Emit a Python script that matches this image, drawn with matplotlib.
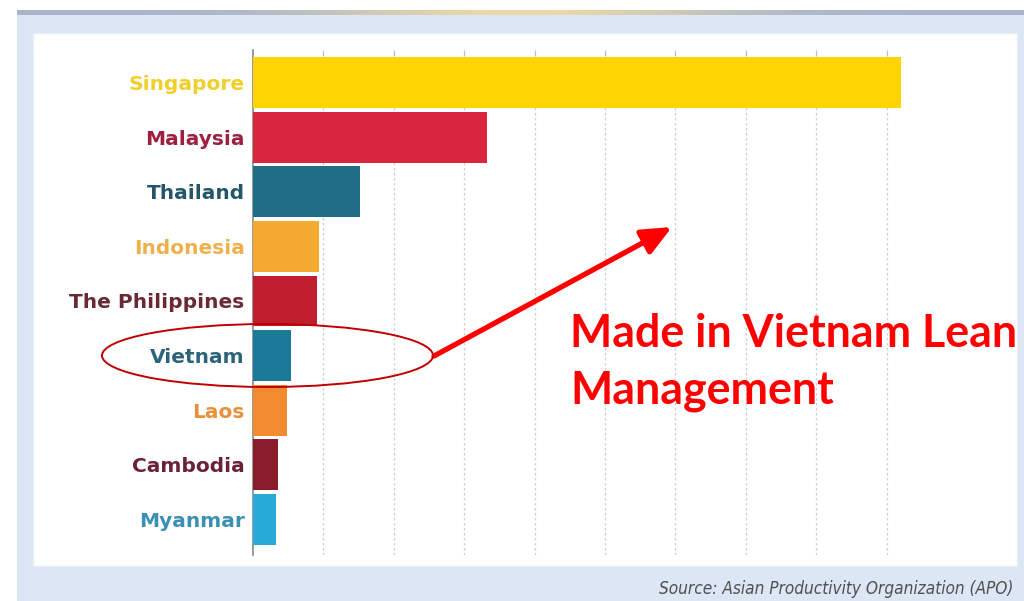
import numpy as np
import matplotlib
matplotlib.use('Agg')
import matplotlib.pyplot as plt
from matplotlib.patches import Rectangle, Ellipse

# data (gridline step = 10)
countries = ['Singapore', 'Malaysia', 'Thailand', 'Indonesia', 'The Philippines',
             'Vietnam', 'Laos', 'Cambodia', 'Myanmar']
values = [92.0, 33.2, 15.2, 9.4, 9.1, 5.4, 4.8, 3.6, 3.3]
bar_colors = ['#FFD400', '#D7263D', '#1F6E86', '#F4A92F', '#BE1E2D',
              '#1B7A98', '#F28B30', '#8A1C2C', '#27AAD8']
label_colors = ['#F0CF2A', '#9E2040', '#24566A', '#EFB04C', '#6A2A35',
                '#2B6478', '#E8903C', '#6B2135', '#3A8FB5']
note = ['Made in Vietnam Lean', 'Management']
source = 'Source: Asian Productivity Organization (APO)'

W, H = 1024, 601
def fx(px):
    return px / W
def fy(py):
    return 1 - py / H

fig = plt.figure(figsize=(W / 100, H / 100), dpi=100)
fig.patch.set_facecolor('white')

# frame: light blue border, top stripe, white panel
fig.add_artist(Rectangle((fx(17), 0), 1 - fx(17), fy(10), transform=fig.transFigure,
                         facecolor='#DCE6F5', edgecolor='none', zorder=-10))
stripe = fig.add_axes([fx(17), fy(15), 1 - fx(17), 5 / H], zorder=-9)
grad = np.linspace(0, 1, 256)
c1 = np.array([0.66, 0.71, 0.80])
c2 = np.array([0.92, 0.85, 0.66])
w = np.exp(-((grad - 0.5) / 0.2) ** 2)[:, None]
img = (c1 * (1 - w) + c2 * w)[None, :, :]
stripe.imshow(img, aspect='auto')
stripe.axis('off')
fig.add_artist(Rectangle((fx(33), fy(566)), fx(1017) - fx(33), fy(33) - fy(566),
                         transform=fig.transFigure, facecolor='white',
                         edgecolor='#E8EEF8', lw=1, zorder=-8))

ax = fig.add_axes([fx(253), fy(555), fx(1000) - fx(253), fy(50) - fy(555)])
ax.set_facecolor('none')
y = np.arange(len(countries))
ax.barh(y, values, height=0.93, color=bar_colors, zorder=3)
ax.set_xlim(0, (1000 - 253) / 7.04)
ax.set_ylim(8.65, -0.595)

ax.set_xticks(np.arange(10, 100, 10))
ax.xaxis.grid(True, color='#CFCFCF', linestyle=(0, (2, 2)), lw=0.9, zorder=0)
ax.tick_params(axis='x', top=True, bottom=False, direction='in', length=4,
               color='#BBBBBB', labeltop=False, labelbottom=False)
ax.set_yticks(y)
ax.set_yticklabels(countries, fontfamily='DejaVu Sans', fontweight='bold', fontsize=14.5)
for lab, c in zip(ax.get_yticklabels(), label_colors):
    lab.set_color(c)
ax.tick_params(axis='y', length=0, pad=6)
for s in ['top', 'right', 'bottom']:
    ax.spines[s].set_visible(False)
ax.spines['left'].set_color('#888888')
ax.spines['left'].set_linewidth(1.2)

# highlight on Vietnam
fig.add_artist(Ellipse((fx(267.5), fy(355.5)), 331 / W, 63 / H, transform=fig.transFigure,
                       facecolor='none', edgecolor='#C00000', lw=1.4, zorder=5))
ax.annotate('', xy=(fx(672), fy(227)), xytext=(fx(434), fy(356)),
            xycoords='figure fraction', textcoords='figure fraction',
            arrowprops=dict(arrowstyle='-|>,head_length=1.8,head_width=0.8',
                            lw=3.8, color='#FF0000', shrinkA=0, shrinkB=0), zorder=6)

fig.text(fx(570), fy(347), note[0], color='#FF0000', fontfamily='Lato',
         fontweight='bold', fontsize=32.2, va='baseline', ha='left', zorder=6)
fig.text(fx(570), fy(404), note[1], color='#FF0000', fontfamily='Lato',
         fontweight='bold', fontsize=32.2, va='baseline', ha='left', zorder=6)

fig.text(fx(1013), fy(594), source, color='#505050',
         fontfamily='DejaVu Sans', fontstretch='condensed', style='italic',
         fontsize=12.3, ha='right', va='baseline')

fig.savefig('out.png', dpi=100)
